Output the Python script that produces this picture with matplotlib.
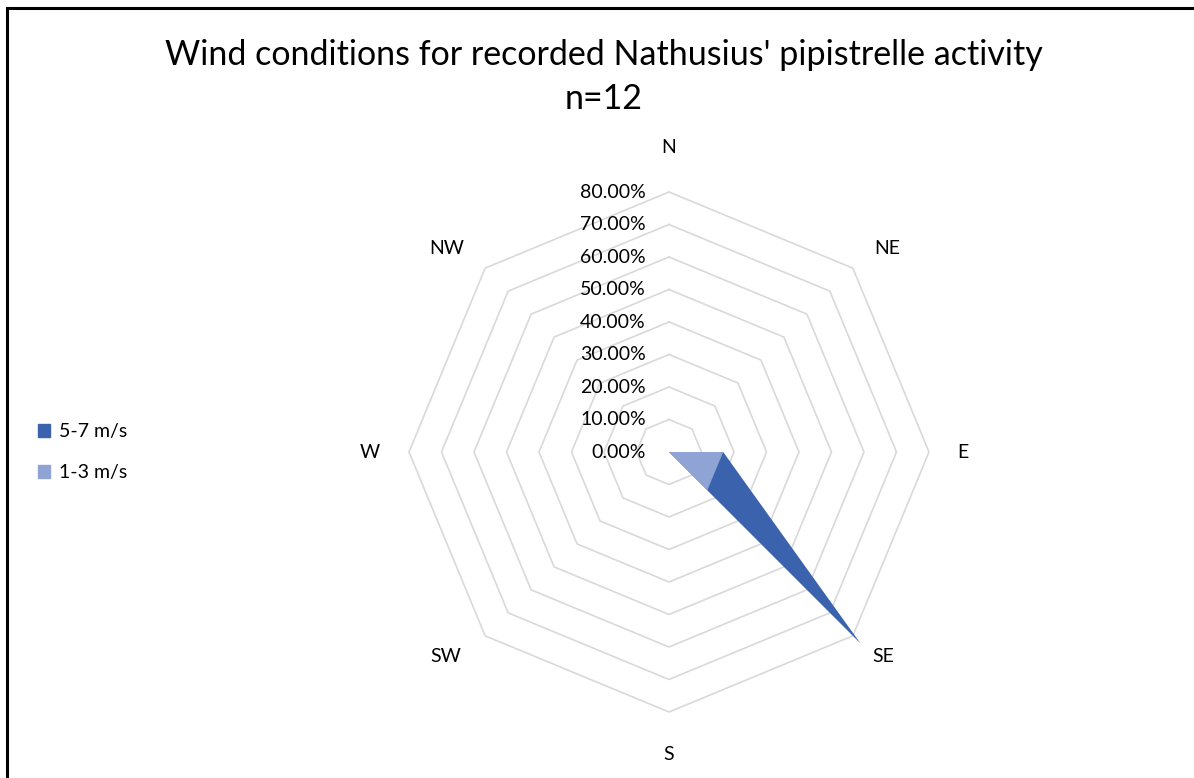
import numpy as np
import matplotlib.pyplot as plt
from matplotlib.patches import Patch, Rectangle

plt.rcParams['font.family'] = ['Lato', 'DejaVu Sans']

directions = ["N", "NE", "E", "SE", "S", "SW", "W", "NW"]
# share of recordings per direction (%)
wind_5_7 = [0, 0, 16.67, 83.33, 0, 0, 0, 0]
wind_1_3 = [0, 0, 16.67, 16.67, 0, 0, 0, 0]
levels = [0, 10, 20, 30, 40, 50, 60, 70, 80]

dark = "#3B63AD"
light = "#8FA4D4"
grid_col = "#D9D9D9"

W, H = 1194, 778
fig = plt.figure(figsize=(W / 100, H / 100), dpi=100)

# polar -> cartesian helper, clockwise from north
ang = np.arange(len(directions)) * 2 * np.pi / len(directions)
def xy(r):
    r = np.asarray(r, dtype=float)
    return r * np.sin(ang), r * np.cos(ang)

px = 3.25  # pixels per percent
half = 320
cx, cy = 669, H - 452
ax = fig.add_axes([(cx - half) / W, (cy - half) / H, 2 * half / W, 2 * half / H])
lim = half / px
ax.set_xlim(-lim, lim)
ax.set_ylim(-lim, lim)
ax.set_aspect('equal')
ax.axis('off')

for lv in levels[1:]:
    gx, gy = xy([lv] * len(directions))
    ax.plot(np.append(gx, gx[0]), np.append(gy, gy[0]), color=grid_col, lw=1.2, zorder=1)

for vals, col in [(wind_5_7, dark), (wind_1_3, light)]:
    fx, fy = xy(vals)
    ax.fill(fx, fy, color=col, lw=0, zorder=2)

for lv in levels:
    ax.text(-7.2, lv, f"{lv:.2f}%", ha='right', va='center', fontsize=14, color='#000000', zorder=3)

# category labels sit a little outside the outer ring (offsets in pixels)
label_off = [(0, 305), (218, 204), (294, 0), (214, -205),
             (0, -303), (-223, -205), (-299, 0), (-222, 204)]
for name, (ox, oy) in zip(directions, label_off):
    ax.text(ox / px, oy / px, name, ha='center', va='center', fontsize=14, color='#000000')

fig.text(604 / W, 1 - 55 / H, "Wind conditions for recorded Nathusius' pipistrelle activity",
         ha='center', va='center', fontsize=24.5)
fig.text(604 / W, 1 - 99 / H, "n=12", ha='center', va='center', fontsize=24.5)

handles = [Patch(color=dark), Patch(color=light)]
fig.legend(handles, ["5-7 m/s", "1-3 m/s"], loc='center left',
           bbox_to_anchor=(20 / W, 1 - 452 / H), frameon=False, fontsize=14,
           handlelength=0.65, handleheight=0.65, handletextpad=0.45, labelspacing=1.25)

fig.patches.append(Rectangle((7 / W, -0.1), 1.2, 1.1 - 8 / H, transform=fig.transFigure,
                             fill=False, ec='black', lw=2.2))

fig.savefig("out.png", dpi=100)
